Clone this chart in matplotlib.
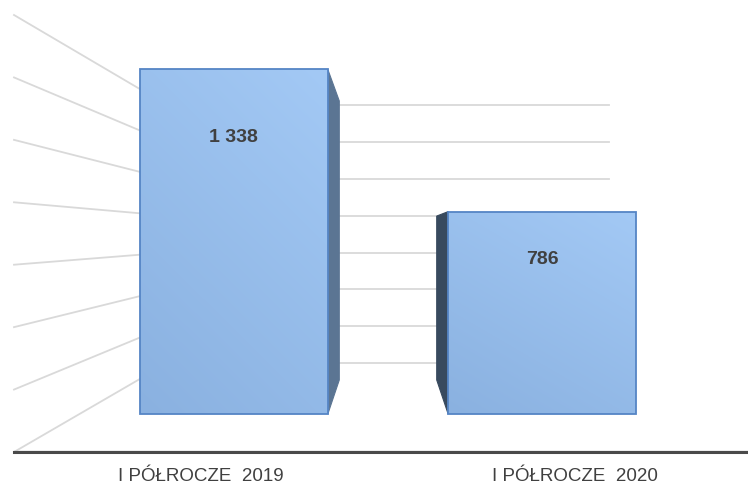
import matplotlib
matplotlib.use("Agg")
import matplotlib.pyplot as plt
from matplotlib.patches import Polygon
import numpy as np

# dane
kategorie = ["I PÓŁROCZE  2019", "I PÓŁROCZE  2020"]
wartosci = [1338, 786]
etykiety = ["1 338", "786"]
poziomy = [0, 200, 400, 600, 800, 1000, 1200, 1400]

# geometria widoku perspektywicznego (piksele)
VP = (388.0, 235.0)          # punkt zbiegu
PODLOGA_L, PODLOGA_P = 14.0, 762.0
PODLOGA_Y, GORA_Y = 452.0, 15.0
Z_SCIANA = 0.695             # glebokosc tylnej sciany
Z_SLUPEK = (0.212, 0.497)    # przod / tyl slupka
SZER = 0.61                  # szerokosc slupka w ulamku kategorii
YMAX = poziomy[-1]


def rzut(xk, v, z):
    # xk - pozycja w jednostkach kategorii, v - wartosc, z - glebokosc
    n = len(kategorie)
    X = PODLOGA_L + xk / n * (PODLOGA_P - PODLOGA_L)
    Y = PODLOGA_Y - v / YMAX * (PODLOGA_Y - GORA_Y)
    f = 1.0 / (1.0 + z)
    return (VP[0] + (X - VP[0]) * f, VP[1] + (Y - VP[1]) * f)


fig = plt.figure(figsize=(7.48, 4.84), dpi=100)
ax = fig.add_axes([0, 0, 1, 1])
ax.set_xlim(0, 748)
ax.set_ylim(484, 0)
ax.axis("off")

siatka = "#d9d9d9"
n = len(kategorie)

# siatka na lewej i tylnej scianie
for v in poziomy:
    a = rzut(0, v, 0)
    b = rzut(0, v, Z_SCIANA)
    c = rzut(n, v, Z_SCIANA)
    ax.plot([a[0], b[0]], [a[1], b[1]], color=siatka, lw=1.3, zorder=1)
    ax.plot([b[0], c[0]], [b[1], c[1]], color=siatka, lw=1.3, zorder=1)

# os pozioma (przednia krawedz podlogi)
a = rzut(0, 0, 0)
c = rzut(n, 0, 0)
ax.plot([a[0], c[0]], [a[1] - 1.5, c[1] - 1.5], color="#bfbfbf", lw=1.0, zorder=2)
ax.plot([a[0], c[0]], [a[1], c[1]], color="#4a4a4a", lw=2.2, zorder=2)

jasny = np.array([0xa3, 0xc9, 0xf5]) / 255
ciemny = np.array([0x8a, 0xb1, 0xe0]) / 255
boki = ["#5b7593", "#384a5e"]

for i, (v, et) in enumerate(zip(wartosci, etykiety)):
    x0 = i + 0.5 - SZER / 2
    x1 = i + 0.5 + SZER / 2
    zp, zt = Z_SLUPEK
    # sciana boczna widoczna od strony punktu zbiegu
    xs = x1 if rzut(x1, 0, zp)[0] < VP[0] else x0
    bok = [rzut(xs, 0, zp), rzut(xs, v, zp), rzut(xs, v, zt), rzut(xs, 0, zt)]
    ax.add_patch(Polygon(bok, closed=True, facecolor=boki[i],
                         edgecolor=boki[i], lw=0.8, zorder=3))

    # przednia sciana z gradientem
    front = [rzut(x0, 0, zp), rzut(x0, v, zp), rzut(x1, v, zp), rzut(x1, 0, zp)]
    px = [p[0] for p in front]
    py = [p[1] for p in front]
    u = np.linspace(0, 1, 60)[None, :]
    w = np.linspace(0, 1, 120)[:, None]
    t = np.clip(0.35 * u + 0.65 * (1 - w), 0, 1)
    obraz = ciemny[None, None, :] + (jasny - ciemny)[None, None, :] * t[:, :, None]
    im = ax.imshow(obraz, extent=(min(px), max(px), max(py), min(py)),
                   origin="upper", aspect="auto", zorder=4, interpolation="bilinear")
    pol = Polygon(front, closed=True, facecolor="none", edgecolor="#5585c5",
                  lw=1.3, zorder=5)
    ax.add_patch(pol)
    im.set_clip_path(pol)

    # etykieta wartosci
    h = max(py) - min(py)
    ax.text((min(px) + max(px)) / 2, min(py) + 18 + 0.146 * h, et,
            ha="center", va="center", fontsize=14, fontweight="bold",
            color="#404040", family="Liberation Sans", zorder=6)

    # etykieta kategorii
    kx = rzut(i + 0.5, 0, 0)[0]
    ax.text(kx, 481, kategorie[i], ha="center", va="baseline", fontsize=13.5,
            color="#404040", family="Liberation Sans", zorder=6)

fig.savefig("out.png", dpi=100)
